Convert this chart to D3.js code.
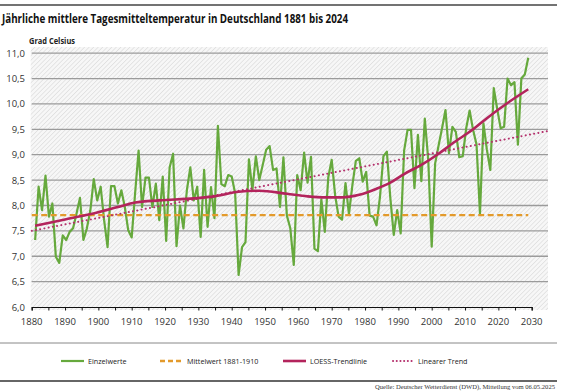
<!DOCTYPE html>
<html><head><meta charset="utf-8">
<script src="https://cdn.jsdelivr.net/npm/d3@7"></script>
<style>
html,body{margin:0;padding:0;background:#fff;}
svg{display:block;font-family:"Open Sans","Noto Sans",sans-serif;}
</style></head><body>
<svg id="c" width="562" height="392"></svg>
<script>
// ---- data ----
const firstYear = 1881;
const temps = [
 7.32,8.37,7.91,8.59,7.78,8.04,6.99,6.87,7.41,7.32, // 1881-1890
 7.48,7.55,7.84,8.15,7.32,7.55,7.90,8.52,8.10,8.37, // 1891-1900
 7.71,7.18,8.38,8.38,8.04,8.30,7.97,7.51,7.37,8.25, // 1901-1910
 9.08,7.97,8.55,8.55,7.97,8.43,7.71,8.57,7.30,8.75, // 1911-1920
 9.02,7.20,8.00,7.55,8.30,8.75,8.10,8.37,7.38,8.70, // 1921-1930
 7.58,8.36,7.75,9.57,8.42,8.38,8.60,8.57,8.24,6.63, // 1931-1940
 7.18,7.28,8.91,8.30,8.97,8.50,8.80,9.10,9.17,8.70, // 1941-1950
 8.73,7.97,8.95,7.80,7.55,6.83,8.60,8.30,9.04,8.45, // 1951-1960
 8.96,7.15,7.10,8.12,7.48,8.55,8.90,8.20,7.78,7.72, // 1961-1970
 8.44,7.83,8.40,8.88,8.93,8.47,8.66,7.80,7.78,7.61, // 1971-1980
 8.17,8.97,9.06,8.15,7.42,7.91,7.45,9.08,9.49,9.49, // 1981-1990
 8.34,9.39,8.48,9.71,8.90,7.19,8.83,9.18,9.52,9.88, // 1991-2000
 9.03,9.55,9.45,8.95,8.97,9.52,9.87,9.49,9.20,7.84, // 2001-2010
 9.62,9.10,8.70,10.31,9.90,9.52,9.55,10.50,10.37,10.43, // 2011-2020
 9.20,10.50,10.58,10.91 // 2021-2024
];
const years = d3.range(firstYear, firstYear + temps.length);

const meanValue = 7.81;
const meanYears = [1880, 2024];

const loessYears  = [1881,1890,1899,1905,1910,1917,1927,1933,1940,1946,1954,1960,1965,1970,1975,1980,1984,1988,1993,1998,2002,2008,2012,2018,2024];
const loessValues = [7.60,7.73,7.86,7.97,8.06,8.10,8.14,8.18,8.27,8.29,8.23,8.18,8.16,8.16,8.21,8.33,8.45,8.62,8.80,9.02,9.22,9.50,9.72,10.02,10.29];

const trendYears  = [1880, 2030];
const trendValues = [7.50, 9.47];

const yTicks = [6.0,6.5,7.0,7.5,8.0,8.5,9.0,9.5,10.0,10.5,11.0];
const xTickLabels = [1880,1890,1900,1910,1920,1930,1940,1950,1960,1970,1980,1990,2000,2010,2020,2030];

const legendItems = [
  {label:"Einzelwerte", key:"single"},
  {label:"Mittelwert 1881-1910", key:"mean"},
  {label:"LOESS-Trendlinie", key:"loess"},
  {label:"Linearer Trend", key:"trend"}
];

// ---- styles ----
const C = {
  single:{stroke:"#66a93d", width:2.2, dash:null, cap:"butt"},
  mean:{stroke:"#e39a2b", width:2.4, dash:"6,3.5", cap:"butt"},
  loess:{stroke:"#b3245c", width:2.6, dash:null, cap:"butt"},
  trend:{stroke:"#b4306c", width:2, dash:"0.1,4.2", cap:"round"}
};

const svg = d3.select("#c");
const L = 31.7, R = 531.7, GR = 548, T = 53.2, B = 307;

const xAxisScale = d3.scaleLinear().domain([1880, 2030]).range([L, R]);
const xData = d3.scaleLinear().domain([1880, 2025]).range([L, R]);
const y = d3.scaleLinear().domain([6, 11]).range([B, T]);

// top rule & title
svg.append("line").attr("x1",0).attr("x2",557).attr("y1",5).attr("y2",5)
  .attr("stroke","#444").attr("stroke-width",1.5);
svg.append("text").attr("x",2).attr("y",23)
  .attr("font-size",13).attr("font-weight","bold").attr("fill","#111")
  .attr("textLength",346).attr("lengthAdjust","spacingAndGlyphs")
  .text("Jährliche mittlere Tagesmitteltemperatur in Deutschland 1881 bis 2024");
svg.append("text").attr("x",29).attr("y",44)
  .attr("font-size",8.5).attr("font-weight","bold").attr("fill","#222")
  .attr("textLength",46).attr("lengthAdjust","spacingAndGlyphs")
  .text("Grad Celsius");

// hatched background
const defs = svg.append("defs");
const pat = defs.append("pattern").attr("id","hatch").attr("width",3.2).attr("height",3.2)
  .attr("patternUnits","userSpaceOnUse").attr("patternTransform","rotate(45)");
pat.append("rect").attr("width",3.2).attr("height",3.2).attr("fill","#f7f7f7");
pat.append("line").attr("x1",0).attr("y1",0).attr("x2",0).attr("y2",3.2)
  .attr("stroke","#d2d2d2").attr("stroke-width",1);
svg.append("rect").attr("x",L-1).attr("y",47).attr("width",GR-L+1).attr("height",B-47+3)
  .attr("fill","url(#hatch)");

// gridlines
svg.append("g").selectAll("line").data(yTicks.filter(d=>d>6)).join("line")
  .attr("x1",L).attr("x2",GR).attr("y1",d=>y(d)).attr("y2",d=>y(d))
  .attr("stroke","#9b9b9b").attr("stroke-width",1.3);

// y labels
svg.append("g").selectAll("text").data(yTicks).join("text")
  .attr("x",25).attr("y",d=>y(d)+3.5).attr("text-anchor","end")
  .attr("font-size",9.5).attr("fill","#333")
  .text(d=>d3.format(".1f")(d).replace(".",","));

// x axis
const xAxis = d3.axisBottom(xAxisScale).tickValues(d3.range(1880,2031,5))
  .tickSize(3.5).tickFormat("");
const gx = svg.append("g").attr("transform",`translate(0,${B})`).call(xAxis);
gx.select(".domain").attr("stroke","#111").attr("stroke-width",1.2);
gx.selectAll(".tick line").attr("stroke","#111").attr("stroke-width",1);
svg.append("g").selectAll("text").data(xTickLabels).join("text")
  .attr("x",d=>xAxisScale(d)).attr("y",325).attr("text-anchor","middle")
  .attr("font-size",9.5).attr("fill","#333").text(d=>d);

// series
const line = d3.line().x(d=>xData(d[0])).y(d=>y(d[1]));
function draw(pts, st, curve){
  svg.append("path").datum(pts)
    .attr("d", curve ? line.curve(curve)(pts) : line.curve(d3.curveLinear)(pts))
    .attr("fill","none").attr("stroke",st.stroke).attr("stroke-width",st.width)
    .attr("stroke-dasharray",st.dash).attr("stroke-linecap",st.cap)
    .attr("stroke-linejoin","round");
}
draw(years.map((yr,i)=>[yr,temps[i]]), C.single);
draw(meanYears.map(yr=>[yr,meanValue]), C.mean);
draw(trendYears.map((yr,i)=>[yr,trendValues[i]]), C.trend);
draw(loessYears.map((yr,i)=>[yr,loessValues[i]]), C.loess, d3.curveMonotoneX);

// legend
svg.append("line").attr("x1",0).attr("x2",557).attr("y1",343).attr("y2",343)
  .attr("stroke","#888").attr("stroke-width",1);
const legX = [61, 160, 283, 393];
const lg = svg.append("g").selectAll("g").data(legendItems).join("g")
  .attr("transform",(d,i)=>`translate(${legX[i]},361)`);
lg.append("line").attr("x1",0).attr("x2",d=>d.key==="trend"?21:23).attr("y1",0).attr("y2",0)
  .attr("stroke",d=>C[d.key].stroke).attr("stroke-width",d=>C[d.key].width)
  .attr("stroke-dasharray",d=>d.key==="mean"?"5,3":(d.key==="trend"?"0.1,3.6":null))
  .attr("stroke-linecap",d=>C[d.key].cap);
lg.append("text").attr("x",d=>d.key==="trend"?25:27).attr("y",2.6)
  .attr("font-size",7.2).attr("fill","#222").text(d=>d.label);

svg.append("line").attr("x1",0).attr("x2",557).attr("y1",381).attr("y2",381)
  .attr("stroke","#333").attr("stroke-width",1.5);
svg.append("text").attr("x",555).attr("y",389).attr("text-anchor","end")
  .attr("font-family","Liberation Serif, serif").attr("font-size",6.6).attr("fill","#333")
  .text("Quelle: Deutscher Wetterdienst (DWD), Mitteilung vom 06.05.2025");
</script>
</body></html>
